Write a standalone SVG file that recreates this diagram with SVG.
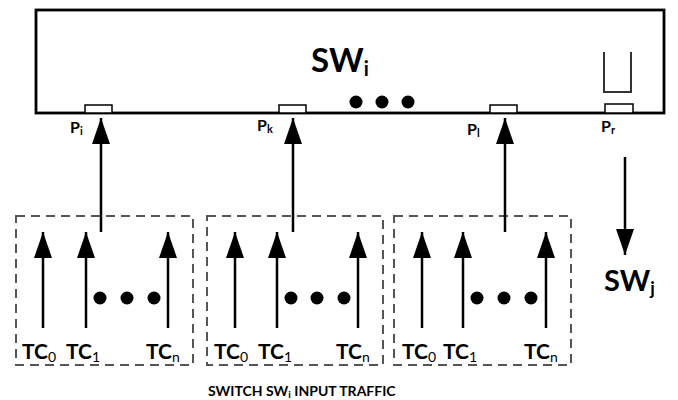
<svg xmlns="http://www.w3.org/2000/svg" width="678" height="400" viewBox="0 0 678 400">
<style>
  text { font-family: Lato, "Open Sans", "Liberation Sans", sans-serif; font-weight: bold; fill: #000; }
  .sw { font-size: 33px; }
  .swj { font-size: 29px; }
  .port { font-size: 16px; }
  .tc { font-size: 21px; }
  .sub { font-size: 14px; font-weight: normal; }
  .psub { font-size: 11px; }
  .cap { font-size: 14px; }
  .frame { fill: #fff; stroke: #000; stroke-width: 2.8; }
  .portbox { fill: #fff; stroke: #000; stroke-width: 1.5; }
  .dash { fill: none; stroke: #555; stroke-width: 2; stroke-dasharray: 9 6; }
  .line { stroke: #000; stroke-width: 2.5; fill: none; }
  .queue { stroke: #333; stroke-width: 2; fill: none; }
  .dot { fill: #000; }
</style>
<defs>
  <marker id="ah" markerUnits="userSpaceOnUse" markerWidth="26" markerHeight="18" refX="26" refY="9" orient="auto" viewBox="0 0 26 18">
    <path d="M0,0 L26,9 L0,18 Z" fill="#000"/>
  </marker>
</defs>

<g id="switch-i">
  <rect class="frame" x="36" y="10" width="628" height="103"/>
  <text class="sw" x="311" y="72"><tspan>SW</tspan><tspan font-size="20" dy="4">i</tspan></text>
  <circle class="dot" cx="356" cy="102" r="6.5"/>
  <circle class="dot" cx="382" cy="102" r="6.5"/>
  <circle class="dot" cx="408" cy="102" r="6.5"/>
  <path class="queue" d="M604,52 V92 H631 V52"/>
</g>

<g id="port-i">
  <rect class="portbox" x="85" y="105" width="27" height="8"/>
  <text class="port" x="70" y="133">P<tspan class="psub" dy="2">i</tspan></text>
</g>
<g id="port-k">
  <rect class="portbox" x="279" y="105" width="27" height="8"/>
  <text class="port" x="257" y="131">P<tspan class="psub" dy="2">k</tspan></text>
</g>
<g id="port-l">
  <rect class="portbox" x="490" y="105" width="27" height="8"/>
  <text class="port" x="467" y="135">P<tspan class="psub" dy="2">l</tspan></text>
</g>
<g id="port-r">
  <rect class="portbox" x="605" y="104" width="28" height="9"/>
  <text class="port" x="601" y="132">P<tspan class="psub" dy="2">r</tspan></text>
</g>

<g id="switch-j">
  <text class="swj" x="604" y="291"><tspan>SW</tspan><tspan font-size="18" dy="4">j</tspan></text>
</g>

<g id="traffic-group-1">
  <rect class="dash" x="16" y="216" width="177" height="149"/>
  <circle class="dot" cx="100" cy="298" r="6.5"/>
  <circle class="dot" cx="127" cy="298" r="6.5"/>
  <circle class="dot" cx="154" cy="298" r="6.5"/>
  <text class="tc" x="22" y="359">TC<tspan class="sub" dy="3">0</tspan></text>
  <text class="tc" x="66" y="359">TC<tspan class="sub" dy="3">1</tspan></text>
  <text class="tc" x="146" y="359">TC<tspan class="sub" dy="3">n</tspan></text>
</g>
<g id="traffic-group-2">
  <rect class="dash" x="207" y="216" width="176" height="149"/>
  <circle class="dot" cx="291" cy="298" r="6.5"/>
  <circle class="dot" cx="317" cy="298" r="6.5"/>
  <circle class="dot" cx="344" cy="298" r="6.5"/>
  <text class="tc" x="214" y="359">TC<tspan class="sub" dy="3">0</tspan></text>
  <text class="tc" x="258" y="359">TC<tspan class="sub" dy="3">1</tspan></text>
  <text class="tc" x="336" y="359">TC<tspan class="sub" dy="3">n</tspan></text>
</g>
<g id="traffic-group-3">
  <rect class="dash" x="394" y="216" width="177" height="149"/>
  <circle class="dot" cx="477" cy="298" r="6.5"/>
  <circle class="dot" cx="504" cy="298" r="6.5"/>
  <circle class="dot" cx="531" cy="298" r="6.5"/>
  <text class="tc" x="402" y="359">TC<tspan class="sub" dy="3">0</tspan></text>
  <text class="tc" x="443" y="359">TC<tspan class="sub" dy="3">1</tspan></text>
  <text class="tc" x="524" y="359">TC<tspan class="sub" dy="3">n</tspan></text>
</g>

<g id="connectors">
  <line class="line" x1="101" y1="232" x2="101" y2="118" marker-end="url(#ah)"/>
  <line class="line" x1="293" y1="232" x2="293" y2="118" marker-end="url(#ah)"/>
  <line class="line" x1="505" y1="232" x2="505" y2="118" marker-end="url(#ah)"/>
  <line class="line" x1="625" y1="157" x2="625" y2="255" marker-end="url(#ah)"/>
  <line class="line" x1="43" y1="328" x2="43" y2="232" marker-end="url(#ah)"/>
  <line class="line" x1="86" y1="328" x2="86" y2="232" marker-end="url(#ah)"/>
  <line class="line" x1="168" y1="328" x2="168" y2="232" marker-end="url(#ah)"/>
  <line class="line" x1="235" y1="328" x2="235" y2="232" marker-end="url(#ah)"/>
  <line class="line" x1="277" y1="328" x2="277" y2="232" marker-end="url(#ah)"/>
  <line class="line" x1="358" y1="328" x2="358" y2="232" marker-end="url(#ah)"/>
  <line class="line" x1="422" y1="328" x2="422" y2="232" marker-end="url(#ah)"/>
  <line class="line" x1="463" y1="328" x2="463" y2="232" marker-end="url(#ah)"/>
  <line class="line" x1="546" y1="328" x2="546" y2="232" marker-end="url(#ah)"/>
</g>

<text class="cap" x="208" y="396">SWITCH SW<tspan font-size="10" dy="2">i</tspan><tspan dy="-2"> INPUT TRAFFIC</tspan></text>
</svg>
